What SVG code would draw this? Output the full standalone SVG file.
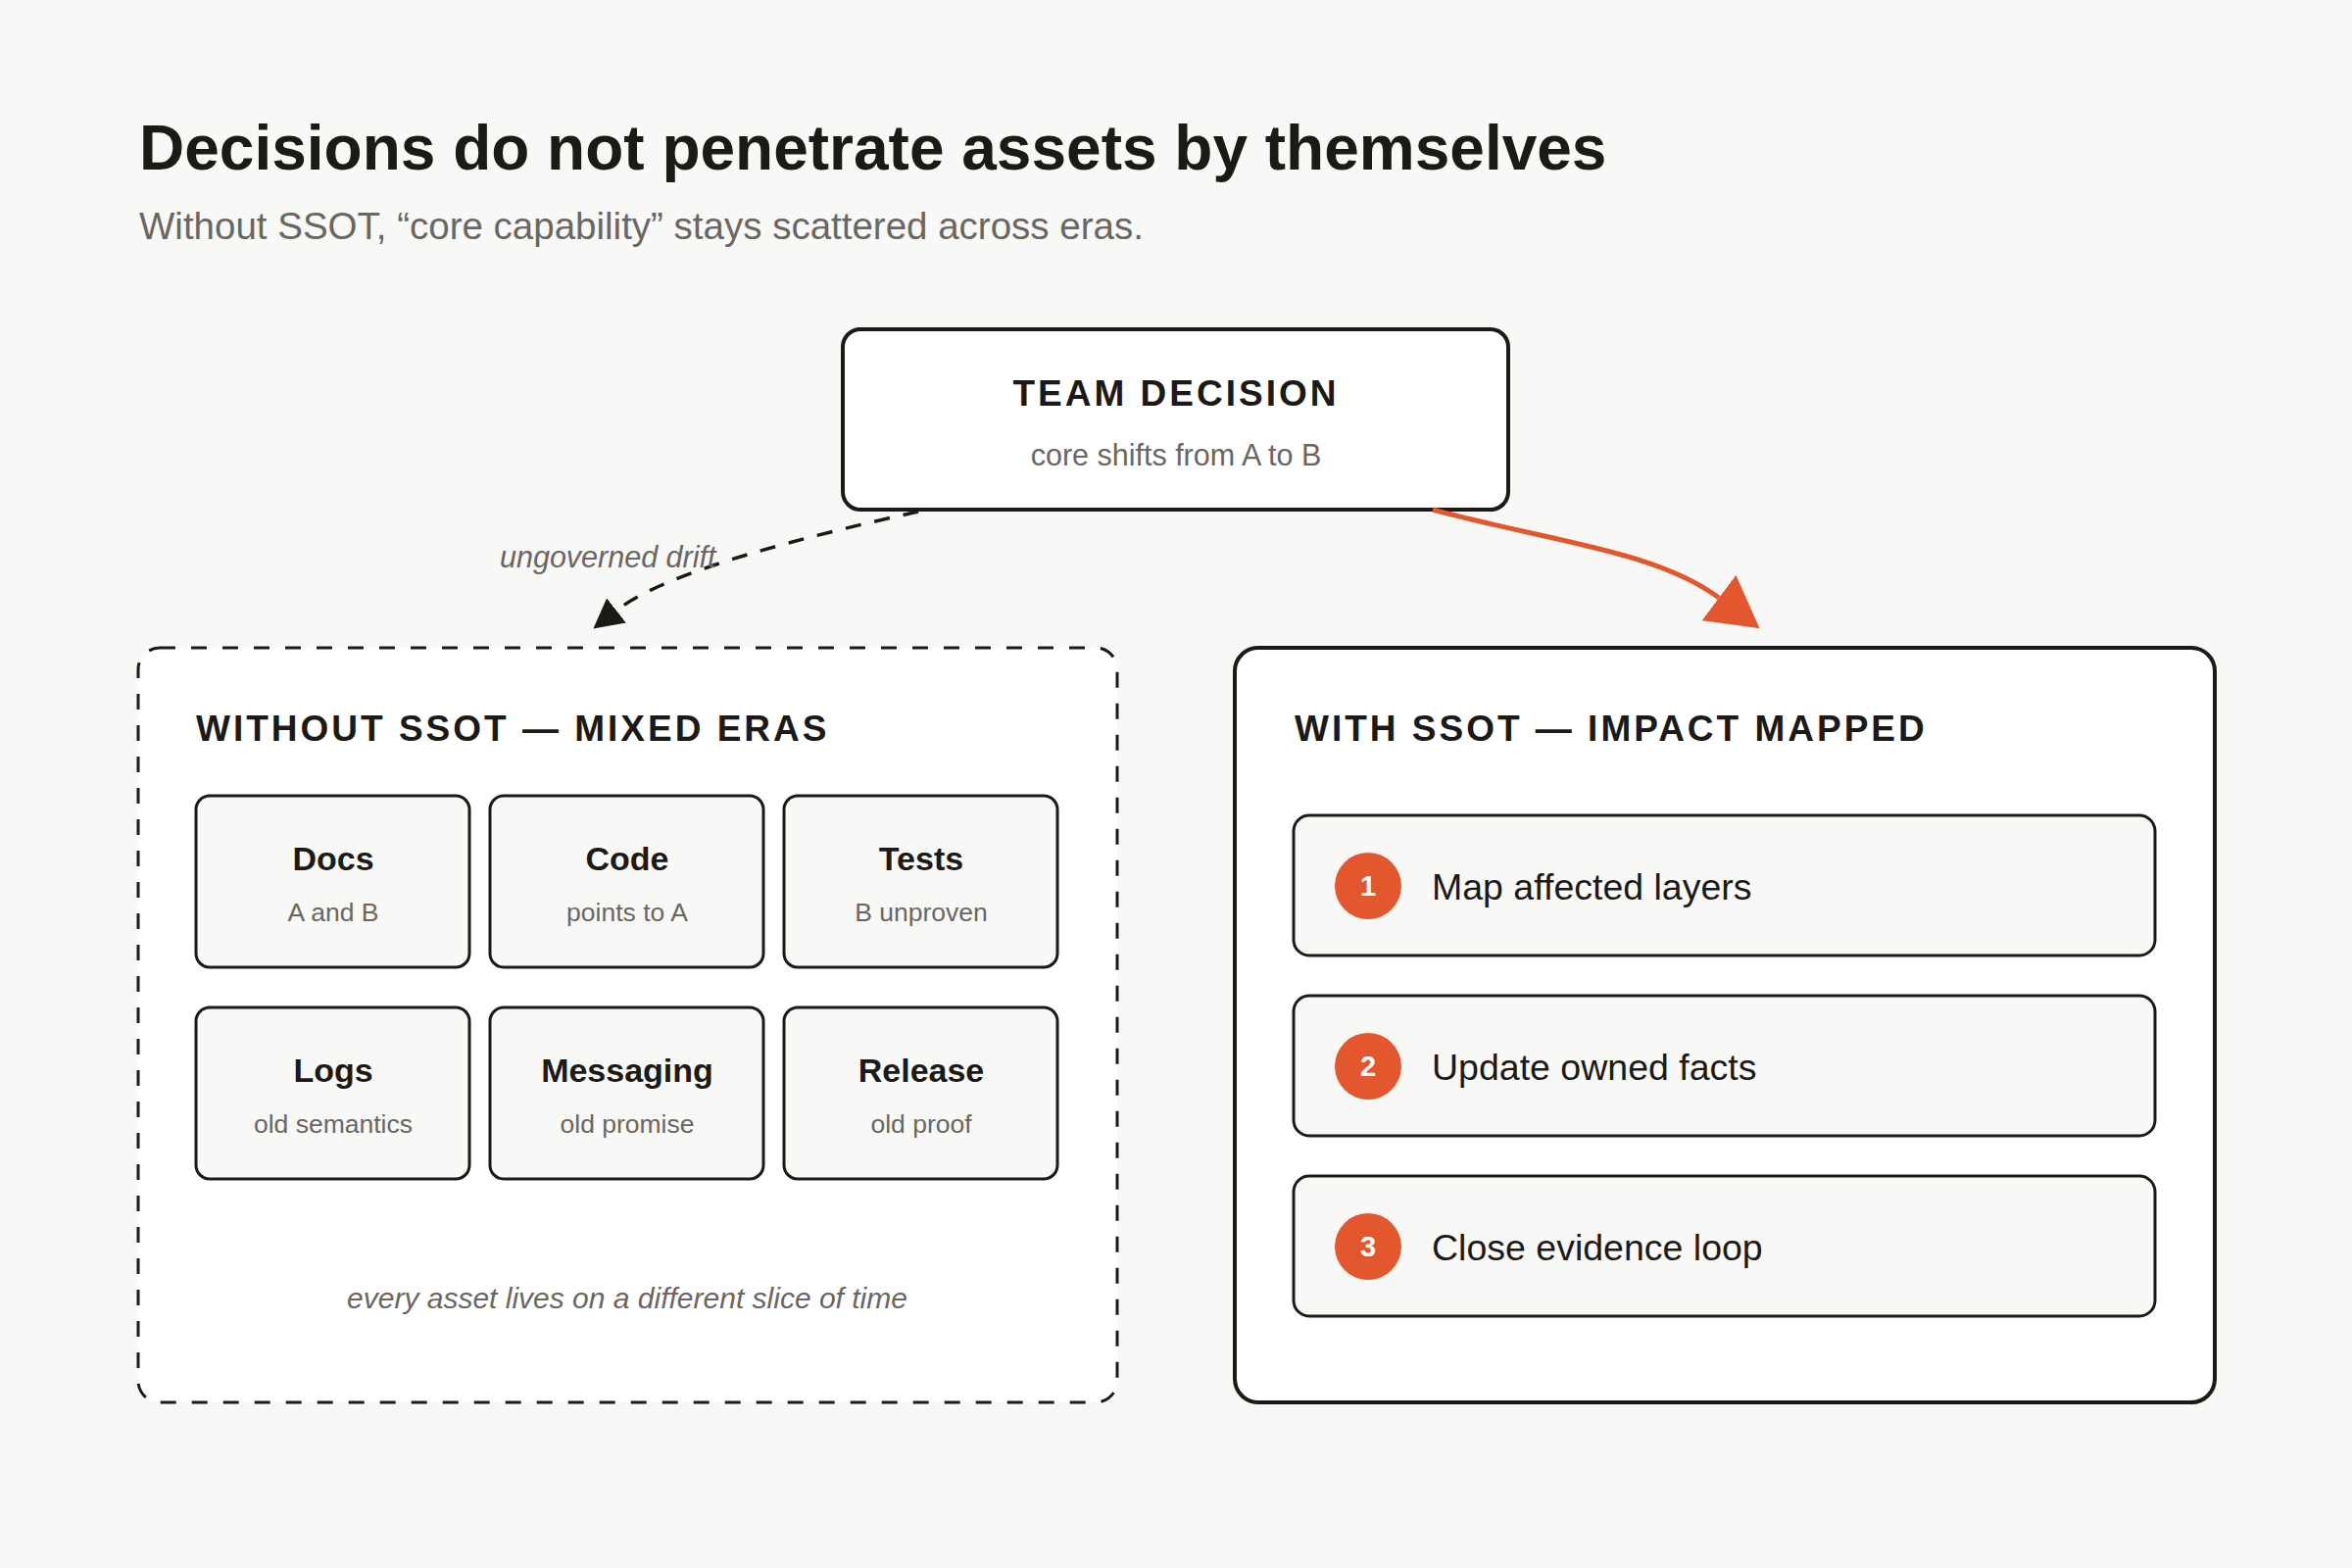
<svg xmlns="http://www.w3.org/2000/svg" width="2400" height="1600" viewBox="0 0 2400 1600">
<defs>
<style>
text{font-family:"Liberation Sans",Arial,Helvetica,sans-serif}
.title{font-size:64px;font-weight:700;fill:#1c1a17}
.sub{font-size:38.5px;fill:#6b6661}
.cap{font-size:37px;font-weight:700;fill:#1c1a17;letter-spacing:3px}
.h{font-size:34px;font-weight:700;fill:#1c1a17;text-anchor:middle}
.s{font-size:26.5px;fill:#6b6661;text-anchor:middle}
.note{font-size:30px;font-style:italic;fill:#6b6661}
.card{fill:#f8f8f6;stroke:#1c1a17;stroke-width:3}
.step{font-size:37.5px;fill:#1c1a17}
.num{font-size:29px;font-weight:700;fill:#ffffff;text-anchor:middle}
.dot{fill:#e2572e}
</style>
<marker id="ah-dark" markerUnits="userSpaceOnUse" viewBox="0 0 30 32" markerWidth="30" markerHeight="32" refX="0" refY="16" orient="auto">
<path d="M0,0 L30,16 L0,32 Z" fill="#1c1a17"/>
</marker>
<marker id="ah-orange" markerUnits="userSpaceOnUse" viewBox="0 0 52 58" markerWidth="52" markerHeight="58" refX="0" refY="29" orient="auto">
<path d="M0,0 L52,29 L0,58 Z" fill="#e2572e"/>
</marker>
</defs>
<rect width="2400" height="1600" fill="#f8f8f6"/>
<text class="title" x="142" y="173">Decisions do not penetrate assets by themselves</text>
<text class="sub" x="142" y="244">Without SSOT, “core capability” stays scattered across eras.</text>

<g id="team-decision">
<rect x="860" y="336" width="679" height="184" rx="18" fill="#ffffff" stroke="#1c1a17" stroke-width="4"/>
<text class="cap" x="1200" y="414" text-anchor="middle">TEAM DECISION</text>
<text class="s" x="1200" y="475" style="font-size:30.5px">core shifts from A to B</text>
</g>

<g id="without-ssot">
<rect x="141" y="661" width="999" height="770" rx="22" fill="#ffffff" stroke="#1c1a17" stroke-width="3" stroke-dasharray="16 16"/>
<text class="cap" x="200" y="756">WITHOUT SSOT — MIXED ERAS</text>
<g id="docs"><rect class="card" x="200" y="812" width="279" height="175" rx="14"/><text class="h" x="340" y="888">Docs</text><text class="s" x="340" y="940">A and B</text></g>
<g id="code"><rect class="card" x="500" y="812" width="279" height="175" rx="14"/><text class="h" x="640" y="888">Code</text><text class="s" x="640" y="940">points to A</text></g>
<g id="tests"><rect class="card" x="800" y="812" width="279" height="175" rx="14"/><text class="h" x="940" y="888">Tests</text><text class="s" x="940" y="940">B unproven</text></g>
<g id="logs"><rect class="card" x="200" y="1028" width="279" height="175" rx="14"/><text class="h" x="340" y="1104">Logs</text><text class="s" x="340" y="1156">old semantics</text></g>
<g id="messaging"><rect class="card" x="500" y="1028" width="279" height="175" rx="14"/><text class="h" x="640" y="1104">Messaging</text><text class="s" x="640" y="1156">old promise</text></g>
<g id="release"><rect class="card" x="800" y="1028" width="279" height="175" rx="14"/><text class="h" x="940" y="1104">Release</text><text class="s" x="940" y="1156">old proof</text></g>
<text class="note" x="640" y="1335" text-anchor="middle">every asset lives on a different slice of time</text>
</g>

<g id="with-ssot">
<rect x="1260" y="661" width="1000" height="770" rx="24" fill="#ffffff" stroke="#1c1a17" stroke-width="4"/>
<text class="cap" x="1321" y="756">WITH SSOT — IMPACT MAPPED</text>
<g id="step-1"><rect class="card" x="1320" y="832" width="879" height="143" rx="16"/><circle class="dot" cx="1396" cy="904" r="34"/><text class="num" x="1396" y="914">1</text><text class="step" x="1461" y="918">Map affected layers</text></g>
<g id="step-2"><rect class="card" x="1320" y="1016" width="879" height="143" rx="16"/><circle class="dot" cx="1396" cy="1088" r="34"/><text class="num" x="1396" y="1098">2</text><text class="step" x="1461" y="1102">Update owned facts</text></g>
<g id="step-3"><rect class="card" x="1320" y="1200" width="879" height="143" rx="16"/><circle class="dot" cx="1396" cy="1272" r="34"/><text class="num" x="1396" y="1282">3</text><text class="step" x="1461" y="1286">Close evidence loop</text></g>
</g>

<g id="connectors">
<path d="M937,522 C820,548 680,583 629,623" fill="none" stroke="#1c1a17" stroke-width="3.5" stroke-dasharray="16 14" marker-end="url(#ah-dark)"/>
<text class="note" x="510" y="579" style="font-size:30.5px">ungoverned drift</text>
<path d="M1462,520 C1580,552 1690,562 1754,610" fill="none" stroke="#e2572e" stroke-width="5" marker-end="url(#ah-orange)"/>
</g>
</svg>
